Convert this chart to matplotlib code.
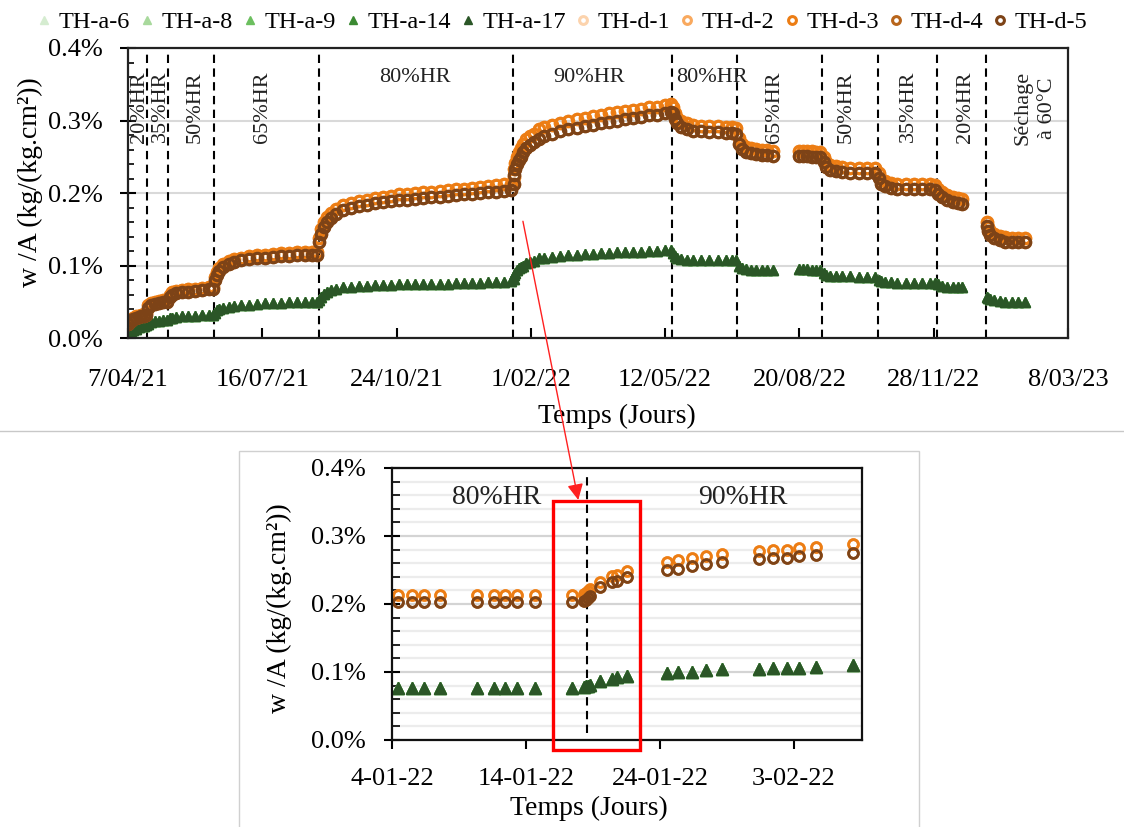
import datetime as dt
import matplotlib
matplotlib.use('Agg')
import matplotlib.pyplot as plt
import matplotlib.dates as mdates
import matplotlib.transforms as mtransforms
from matplotlib.ticker import MultipleLocator, FuncFormatter
from matplotlib.patches import Rectangle, ConnectionPatch
from matplotlib.lines import Line2D

plt.rcParams['font.family'] = ['Liberation Serif', 'DejaVu Serif']

# ---------------- data ----------------
series_names = ['TH-a-6', 'TH-a-8', 'TH-a-9', 'TH-a-14', 'TH-a-17',
                'TH-d-1', 'TH-d-2', 'TH-d-3', 'TH-d-4', 'TH-d-5']
series_colors = ['#d5ecd0', '#a8d99c', '#6cbf5f', '#3b8a32', '#2b5627',
                 '#fcd3ad', '#f9a95e', '#ec7d14', '#b8651b', '#7d4317']
series_group = ['a', 'a', 'a', 'a', 'a', 'hi', 'hi', 'hi', 'lo', 'lo']

# top chart: days since 2021-04-07
top_start = '2021-04-07'
top_days = [
    0, 2, 4, 6, 8, 10, 12, 13.5,
    15, 17, 20, 23, 26, 29,
    31, 33, 36, 40, 45, 50, 55, 60, 63,
    64.5, 66, 68, 71, 75, 79, 84, 90, 96, 102, 108, 114, 120, 126, 132, 137, 141,
    142.5, 144, 146, 148, 151, 155, 160, 166, 172, 178, 184, 190, 196, 202, 208, 214,
    220, 226, 232, 238, 244, 250, 256, 262, 268, 274, 280, 285.5,
    287.2, 287.5, 288.4, 289.5, 291, 292.5, 294.4, 296.6, 299.4, 302.4, 306.4, 310,
    316, 322, 328, 334, 340, 346, 352, 358, 364, 370, 376, 382, 388, 394, 400, 404,
    405.5, 407, 409, 412, 416, 421, 427, 433, 439, 445, 450, 453,
    455, 457, 460, 464, 468, 472, 476, 480,
    500, 503, 506, 509, 512, 515.5,
    518, 520, 523, 527, 532, 538, 544, 550, 556,
    559, 561, 564, 568, 573, 579, 585, 591, 597, 601,
    603, 606, 610, 614, 618, 621,
    639.5, 640.5, 642, 645, 649, 653, 658, 663, 668,
]
top_a = [
    0.004, 0.008, 0.011, 0.013, 0.015, 0.016, 0.017, 0.018,
    0.020, 0.022, 0.023, 0.024, 0.025, 0.025,
    0.027, 0.028, 0.029, 0.030, 0.031, 0.031, 0.032, 0.032, 0.032,
    0.035, 0.038, 0.040, 0.041, 0.043, 0.044, 0.045, 0.046, 0.047, 0.048, 0.048, 0.048, 0.049, 0.049, 0.049, 0.050, 0.050,
    0.052, 0.057, 0.061, 0.064, 0.066, 0.068, 0.070, 0.071, 0.072, 0.072, 0.073, 0.073, 0.073, 0.074, 0.074, 0.074,
    0.075, 0.075, 0.075, 0.075, 0.076, 0.076, 0.076, 0.076, 0.077, 0.077, 0.077, 0.078,
    0.081, 0.087, 0.090, 0.094, 0.096, 0.098, 0.100, 0.104, 0.105, 0.106, 0.110, 0.111,
    0.112, 0.113, 0.114, 0.115, 0.116, 0.116, 0.117, 0.117, 0.118, 0.118, 0.119, 0.119, 0.120, 0.120, 0.121, 0.121,
    0.117, 0.113, 0.110, 0.109, 0.108, 0.108, 0.108, 0.108, 0.108, 0.108, 0.107, 0.107,
    0.100, 0.096, 0.095, 0.094, 0.094, 0.094, 0.094, 0.094,
    0.095, 0.095, 0.095, 0.094, 0.094, 0.094,
    0.090, 0.087, 0.086, 0.085, 0.085, 0.085, 0.084, 0.084, 0.084,
    0.080, 0.078, 0.077, 0.077, 0.076, 0.076, 0.076, 0.076, 0.076, 0.076,
    0.074, 0.072, 0.071, 0.071, 0.070, 0.070,
    0.057, 0.055, 0.054, 0.052, 0.051, 0.050, 0.050, 0.050, 0.050,
]
top_d_hi = [
    0.022, 0.026, 0.028, 0.030, 0.031, 0.032, 0.033, 0.035,
    0.045, 0.048, 0.050, 0.051, 0.052, 0.053,
    0.060, 0.063, 0.065, 0.066, 0.067, 0.068, 0.069, 0.070, 0.071,
    0.084, 0.091, 0.097, 0.102, 0.106, 0.109, 0.111, 0.113, 0.114, 0.115, 0.116, 0.117, 0.117, 0.118, 0.118, 0.118, 0.118,
    0.138, 0.150, 0.160, 0.167, 0.173, 0.178, 0.183, 0.186, 0.189, 0.191, 0.193, 0.195, 0.196, 0.198, 0.199, 0.200,
    0.201, 0.202, 0.203, 0.204, 0.205, 0.206, 0.207, 0.208, 0.209, 0.211, 0.212, 0.213,
    0.222, 0.233, 0.241, 0.249, 0.256, 0.262, 0.268, 0.274, 0.278, 0.282, 0.288, 0.291,
    0.294, 0.297, 0.300, 0.302, 0.304, 0.306, 0.308, 0.310, 0.312, 0.313, 0.315, 0.316, 0.318, 0.319, 0.321, 0.323,
    0.318, 0.310, 0.304, 0.299, 0.296, 0.294, 0.293, 0.292, 0.292, 0.291, 0.291, 0.290,
    0.276, 0.268, 0.264, 0.262, 0.261, 0.260, 0.259, 0.258,
    0.258, 0.258, 0.258, 0.258, 0.257, 0.257,
    0.250, 0.243, 0.239, 0.237, 0.236, 0.235, 0.235, 0.234, 0.234,
    0.228, 0.220, 0.216, 0.214, 0.213, 0.212, 0.212, 0.212, 0.212, 0.211,
    0.206, 0.201, 0.197, 0.195, 0.193, 0.192,
    0.160, 0.153, 0.148, 0.144, 0.141, 0.139, 0.138, 0.138, 0.138,
]
top_d_lo = [
    0.020, 0.024, 0.026, 0.028, 0.029, 0.030, 0.031, 0.032,
    0.042, 0.045, 0.047, 0.048, 0.049, 0.050,
    0.057, 0.060, 0.062, 0.063, 0.064, 0.065, 0.066, 0.067, 0.068,
    0.080, 0.087, 0.093, 0.098, 0.102, 0.105, 0.107, 0.109, 0.110, 0.111, 0.112, 0.113, 0.113, 0.114, 0.114, 0.114, 0.114,
    0.132, 0.144, 0.153, 0.160, 0.166, 0.171, 0.176, 0.179, 0.182, 0.184, 0.186, 0.188, 0.189, 0.190, 0.191, 0.192,
    0.193, 0.194, 0.195, 0.196, 0.197, 0.198, 0.199, 0.200, 0.201, 0.202, 0.203, 0.204,
    0.213, 0.2255, 0.233, 0.240, 0.245, 0.250, 0.256, 0.262, 0.266, 0.270, 0.2745, 0.278,
    0.282, 0.285, 0.288, 0.290, 0.292, 0.294, 0.296, 0.298, 0.300, 0.302, 0.304, 0.305, 0.307, 0.308, 0.310, 0.312,
    0.310, 0.302, 0.296, 0.291, 0.288, 0.286, 0.285, 0.284, 0.284, 0.283, 0.283, 0.282,
    0.268, 0.261, 0.257, 0.255, 0.254, 0.253, 0.252, 0.251,
    0.251, 0.251, 0.251, 0.250, 0.250, 0.250,
    0.243, 0.236, 0.232, 0.230, 0.229, 0.228, 0.228, 0.227, 0.227,
    0.221, 0.213, 0.209, 0.207, 0.206, 0.205, 0.205, 0.205, 0.205, 0.204,
    0.199, 0.194, 0.190, 0.188, 0.186, 0.185,
    0.154, 0.147, 0.142, 0.138, 0.135, 0.133, 0.132, 0.132, 0.132,
]
top_span_days = 700
top_tick_labels = ['7/04/21', '16/07/21', '24/10/21', '1/02/22',
                   '12/05/22', '20/08/22', '28/11/22', '8/03/23']
phase_change_days = [14, 30, 64, 142, 286.55, 405, 453.5, 517, 558.5, 602.4, 638.9]
top_phase_labels = ['20%HR', '35%HR', '50%HR', '65%HR', '80%HR', '90%HR', '80%HR',
                    '65%HR', '50%HR', '35%HR', '20%HR', 'Séchage\nà 60°C']

# bottom (zoom) chart: days since 2022-01-04
bot_start = '2022-01-04'
bot_days = [0.47, 1.47, 2.41, 3.58, 6.37, 7.61, 8.43, 9.35, 10.67, 13.41,
            14.33, 14.48, 14.63, 14.78, 15.52, 16.40, 16.77, 17.51,
            20.50, 21.37, 22.37, 23.41, 24.65, 27.41, 28.41, 29.46, 30.40, 31.64, 34.43]
bot_a = [0.0765, 0.0765, 0.0765, 0.0765, 0.0765, 0.0765, 0.0765, 0.0765, 0.0765, 0.077,
         0.078, 0.079, 0.080, 0.081, 0.087, 0.090, 0.092, 0.094,
         0.098, 0.1005, 0.1005, 0.103, 0.104, 0.105, 0.106, 0.106, 0.106, 0.108, 0.110]
bot_d_hi = [0.213, 0.213, 0.213, 0.213, 0.213, 0.213, 0.213, 0.213, 0.213, 0.213,
            0.214, 0.216, 0.219, 0.222, 0.233, 0.241, 0.243, 0.249,
            0.262, 0.264, 0.268, 0.271, 0.274, 0.278, 0.279, 0.279, 0.282, 0.284, 0.288]
bot_d_lo = [0.203, 0.203, 0.203, 0.203, 0.203, 0.203, 0.203, 0.203, 0.203, 0.203,
            0.204, 0.206, 0.209, 0.212, 0.2255, 0.233, 0.234, 0.240,
            0.250, 0.252, 0.256, 0.259, 0.262, 0.266, 0.267, 0.267, 0.270, 0.272, 0.2745]
bot_span_days = 35.07
bot_tick_labels = ['4-01-22', '14-01-22', '24-01-22', '3-02-22']
bot_phase_change_day = 14.55
bot_phase_labels = ['80%HR', '90%HR']

assert len(top_days) == len(top_a) == len(top_d_hi) == len(top_d_lo)
assert len(bot_days) == len(bot_a) == len(bot_d_hi) == len(bot_d_lo)

# ---------------- helpers ----------------
W, H = 1124, 827
t0 = dt.datetime.fromisoformat(top_start)
b0 = dt.datetime.fromisoformat(bot_start)


def dates(origin, days):
    return [origin + dt.timedelta(days=d) for d in days]


def dnum(origin, d):
    return mdates.date2num(origin + dt.timedelta(days=d))


pct = FuncFormatter(lambda v, p: f'{v:.1f}%')
top_vals = {'a': top_a, 'hi': top_d_hi, 'lo': top_d_lo}
bot_vals = {'a': bot_a, 'hi': bot_d_hi, 'lo': bot_d_lo}

fig = plt.figure(figsize=(W / 100, H / 100), dpi=100)

# ---------------- top chart ----------------
ax1 = fig.add_axes([128 / W, 1 - 338 / H, 940 / W, 290 / H])
tx = dates(t0, top_days)
handles = []
for name, col, grp in zip(series_names, series_colors, series_group):
    if grp == 'a':
        h, = ax1.plot(tx, top_vals[grp], ls='none', marker='^', ms=7.5,
                      color=col, mec=col, label=name)
    else:
        h, = ax1.plot(tx, top_vals[grp], ls='none', marker='o', ms=7.5,
                      mfc='none', mec=col, mew=2.2, label=name)
    handles.append(h)

ax1.set_xlim(t0, t0 + dt.timedelta(days=top_span_days))
ax1.set_ylim(0, 0.4)
ax1.set_xticks(dates(t0, [100 * k for k in range(len(top_tick_labels))]))
ax1.set_xticklabels(top_tick_labels)
ax1.yaxis.set_major_locator(MultipleLocator(0.1))
ax1.yaxis.set_minor_locator(MultipleLocator(0.02))
ax1.yaxis.set_major_formatter(pct)
ax1.grid(axis='y', which='major', color='#d9d9d9', lw=1.5, zorder=0)
ax1.set_axisbelow(True)
ax1.tick_params(axis='y', which='major', direction='inout', length=12, width=1.5,
                labelsize=19, pad=12)
ax1.tick_params(axis='y', which='minor', direction='in', length=4.5, width=1.2)
ax1.tick_params(axis='x', which='major', direction='in', length=7, width=1.5,
                labelsize=19, pad=22)
for s in ax1.spines.values():
    s.set_linewidth(1.6)
    s.set_color('#222222')

for d in phase_change_days:
    ax1.axvline(t0 + dt.timedelta(days=d), ymin=0, ymax=0.985, color='black',
                lw=1.5, ls=(0, (4, 2.6)), zorder=1)

ax1.set_xlabel('Temps (Jours)', fontsize=20)
ax1.xaxis.set_label_coords((617 - 128) / 940, (338 - 416) / 290)
ax1.xaxis.label.set_va('center')
ax1.set_ylabel('w /A (kg/(kg.cm²))', fontsize=20)
ax1.yaxis.set_label_coords((30 - 128) / 940, (338 - 182) / 290)
ax1.yaxis.label.set_va('center')

trans1 = mtransforms.blended_transform_factory(ax1.transData, ax1.transAxes)
top_label_days = [8.9, 23.8, 49.9, 100.5, 213.7, 343, 434.9, 481.8, 534.6, 581.5, 624, 675.5]
top_label_rot = [90, 90, 90, 90, 0, 0, 0, 90, 90, 90, 90, 90]
for lab, d, r in zip(top_phase_labels, top_label_days, top_label_rot):
    if r == 0:
        ax1.text(dnum(t0, d), (338 - 78) / 290, lab, transform=trans1, fontsize=16,
                 ha='center', va='center', color='#222222')
    else:
        ax1.text(dnum(t0, d), (338 - 71) / 290, lab, transform=trans1, fontsize=16,
                 ha='center', va='top', rotation=90, color='#222222',
                 multialignment='center', linespacing=1.35)

fig.legend(handles=handles, loc='center', bbox_to_anchor=(0.5, 1 - 22 / H), ncol=10,
           frameon=False, fontsize=17.5, handlelength=0.6, handletextpad=0.3,
           columnspacing=0.4, markerscale=0.75, borderaxespad=0, borderpad=0)

# ---------------- bottom chart ----------------
ax2 = fig.add_axes([392 / W, 1 - 740 / H, 470 / W, 272 / H])
bx = dates(b0, bot_days)
for name, col, grp in zip(series_names, series_colors, series_group):
    if grp == 'a':
        ax2.plot(bx, bot_vals[grp], ls='none', marker='^', ms=9,
                 color=col, mec=col)
    else:
        ax2.plot(bx, bot_vals[grp], ls='none', marker='o', ms=7,
                 mfc='none', mec=col, mew=2.0)

ax2.set_xlim(b0, b0 + dt.timedelta(days=bot_span_days))
ax2.set_ylim(0, 0.4)
ax2.set_xticks(dates(b0, [10 * k for k in range(len(bot_tick_labels))]))
ax2.set_xticklabels(bot_tick_labels)
ax2.yaxis.set_major_locator(MultipleLocator(0.1))
ax2.yaxis.set_minor_locator(MultipleLocator(0.02))
ax2.yaxis.set_major_formatter(pct)
ax2.grid(axis='y', which='major', color='#d4d4d4', lw=1.6, zorder=0)
ax2.grid(axis='y', which='minor', color='#ececec', lw=1.6, zorder=0)
ax2.set_axisbelow(True)
ax2.tick_params(axis='y', which='major', direction='inout', length=12, width=1.5,
                labelsize=19, pad=13)
ax2.tick_params(axis='y', which='minor', direction='in', length=6, width=1.2)
ax2.tick_params(axis='x', which='major', direction='out', length=6.5, width=1.5,
                labelsize=19, pad=14)
for s in ax2.spines.values():
    s.set_linewidth(1.6)
    s.set_color('#111111')
ax2.axvline(b0 + dt.timedelta(days=bot_phase_change_day), ymin=0.025, ymax=0.985,
            color='black', lw=1.5, ls=(0, (4, 2.6)), zorder=1)

ax2.set_xlabel('Temps (Jours)', fontsize=20)
ax2.xaxis.set_label_coords((589 - 392) / 470, (740 - 808) / 272)
ax2.xaxis.label.set_va('center')
ax2.set_ylabel('w /A (kg/(kg.cm²))', fontsize=20)
ax2.yaxis.set_label_coords((279 - 392) / 470, (740 - 608) / 272)
ax2.yaxis.label.set_va('center')

trans2 = mtransforms.blended_transform_factory(ax2.transData, ax2.transAxes)
for lab, d in zip(bot_phase_labels, [7.84, 26.2]):
    ax2.text(dnum(b0, d), (740 - 498) / 272, lab, transform=trans2, fontsize=20,
             ha='center', va='center', color='#222222')

# red highlight box and arrow
rect = Rectangle((dnum(b0, 12.0), -0.0147), dnum(b0, 18.5) - dnum(b0, 12.0), 0.366,
                 transform=ax2.transData, fill=False, ec='#ff0000', lw=2.4,
                 clip_on=False, zorder=10)
ax2.add_patch(rect)
arrow = ConnectionPatch(xyA=(dnum(t0, 294.1), 0.161), coordsA=ax1.transData,
                        xyB=(dnum(b0, 13.9), 0.353), coordsB=ax2.transData,
                        arrowstyle='-|>', color='#ff2020', lw=1.0,
                        mutation_scale=24, zorder=11)
fig.add_artist(arrow)

# separators / frame
fig.add_artist(Line2D([0, 1], [1 - 431 / H] * 2, transform=fig.transFigure,
                      color='#c8c8c8', lw=1.0))
fig.add_artist(Rectangle((239 / W, -0.01), (919 - 239) / W, (827 - 451) / H + 0.01,
                         transform=fig.transFigure, fill=False, ec='#d0d0d0', lw=1.0))

fig.savefig('out.png', dpi=100)
